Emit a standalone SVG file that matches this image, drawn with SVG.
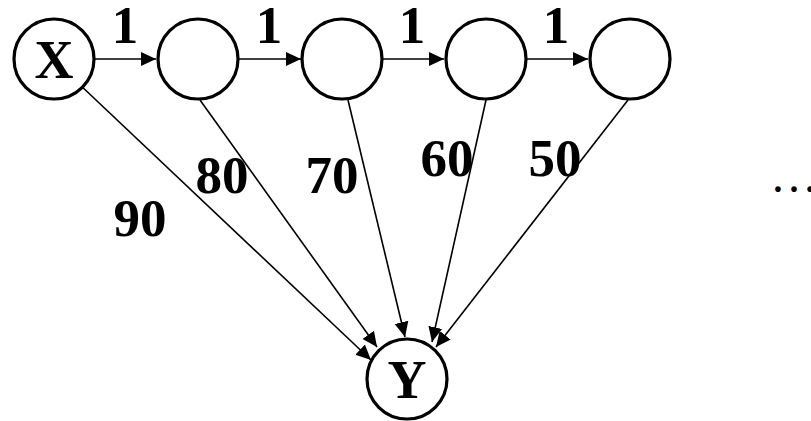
<svg xmlns="http://www.w3.org/2000/svg" width="811" height="421" viewBox="0 0 811 421">
  <style>
    .node { fill: #fff; stroke: #000; stroke-width: 3.2; }
    .edge { stroke: #000; stroke-width: 1.6; fill: none; marker-end: url(#arrow); }
    .lbl { font-family: "Liberation Serif", "Times New Roman", serif; font-weight: bold; font-size: 53px; fill: #000; text-anchor: middle; }
    .nlbl { font-family: "Liberation Serif", "Times New Roman", serif; font-weight: bold; font-size: 54px; fill: #000; text-anchor: middle; }
  </style>
  <defs>
    <marker id="arrow" markerUnits="userSpaceOnUse" markerWidth="16" markerHeight="16" viewBox="0 0 16 16" refX="15" refY="8" orient="auto">
      <path d="M0,1 L15,8 L0,15 Z" fill="#000"/>
    </marker>
  </defs>
  <rect width="811" height="421" fill="#fff"/>

  <g id="connectors">
    <line class="edge" x1="95" y1="59" x2="156" y2="59"/>
    <line class="edge" x1="239" y1="59" x2="301" y2="59"/>
    <line class="edge" x1="382" y1="59" x2="444" y2="59"/>
    <line class="edge" x1="527" y1="59" x2="588" y2="59"/>
    <line class="edge" x1="78" y1="83" x2="371" y2="360"/>
    <line class="edge" x1="200" y1="100" x2="377" y2="347"/>
    <line class="edge" x1="348" y1="100" x2="405" y2="337"/>
    <line class="edge" x1="486" y1="100" x2="432" y2="342"/>
    <line class="edge" x1="628" y1="100" x2="436" y2="347"/>
  </g>

  <g id="edge-labels">
    <text class="lbl" x="125" y="43">1</text>
    <text class="lbl" x="269" y="43">1</text>
    <text class="lbl" x="412" y="43">1</text>
    <text class="lbl" x="556" y="43">1</text>
    <text class="lbl" x="140" y="236">90</text>
    <text class="lbl" x="222" y="193">80</text>
    <text class="lbl" x="332" y="193">70</text>
    <text class="lbl" x="447" y="176">60</text>
    <text class="lbl" x="555" y="176">50</text>
  </g>

  <g id="node-x">
    <circle class="node" cx="54" cy="59" r="40"/>
    <text class="nlbl" x="54" y="78">X</text>
  </g>
  <g id="node-a">
    <circle class="node" cx="198" cy="59" r="40"/>
  </g>
  <g id="node-b">
    <circle class="node" cx="342" cy="59" r="40"/>
  </g>
  <g id="node-c">
    <circle class="node" cx="486" cy="59" r="40"/>
  </g>
  <g id="node-d">
    <circle class="node" cx="630" cy="59" r="40"/>
  </g>
  <g id="node-y">
    <circle class="node" cx="407" cy="379" r="40"/>
    <text class="nlbl" x="407" y="398">Y</text>
  </g>

  <text x="770" y="192" font-family="Liberation Serif, serif" font-size="48" fill="#000">…</text>
</svg>
